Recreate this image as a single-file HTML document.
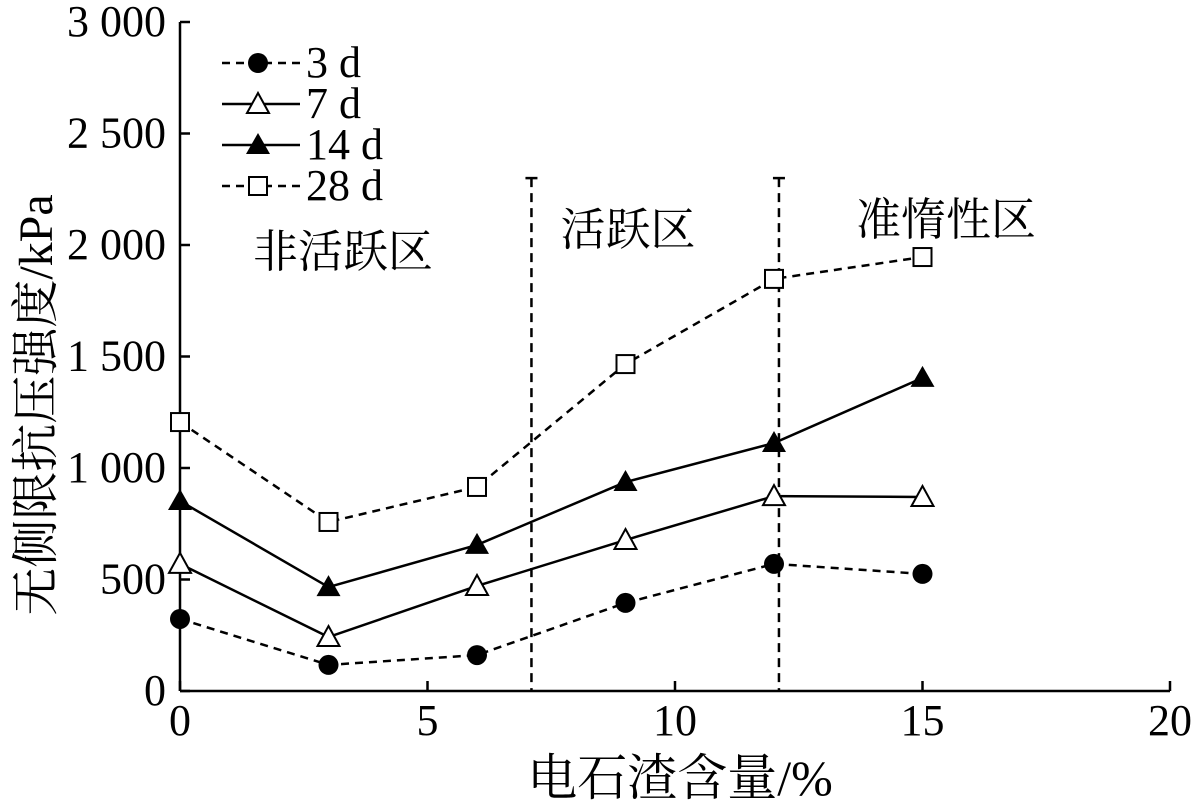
<!DOCTYPE html>
<html><head><meta charset="utf-8"><style>
html,body{margin:0;padding:0;background:#fff;}
svg{display:block;font-family:"Liberation Serif","Noto Serif CJK SC",serif;}
</style></head><body>
<svg id="chart" width="1198" height="805" viewBox="0 0 1198 805" xmlns="http://www.w3.org/2000/svg"></svg>
<script>
const xValues = [0, 3, 6, 9, 12, 15];
const s3d = [323, 117, 161, 395, 570, 525];
const s7d = [570, 242, 471, 677, 874, 870];
const s14d = [852, 466, 655, 937, 1112, 1404];
const s28d = [1206, 758, 915, 1466, 1848, 1946];
const xTicks = [0, 5, 10, 15, 20];
const yTicks = [0, 500, 1000, 1500, 2000, 2500, 3000];
const yTickLabels = ["0", "500", "1 000", "1 500", "2 000", "2 500", "3 000"];
const zoneBounds = [7.1, 12.1];
const zoneTop = 2300;

const NS = "http://www.w3.org/2000/svg";
const svg = document.getElementById('chart');
const X0 = 180, X1 = 1170, Y0 = 691, Y1 = 22;
const xs = v => X0 + (v / 20) * (X1 - X0);
const ys = v => Y0 - (v / 3000) * (Y0 - Y1);
function mk(tag, attrs, parent) {
  const e = document.createElementNS(NS, tag);
  for (const k in attrs) e.setAttribute(k, attrs[k]);
  (parent || svg).appendChild(e);
  return e;
}
let ax = mk('line', {x1: X0, y1: Y0, x2: X1, y2: Y0, stroke: '#000', 'stroke-width': 2.5});


ax = mk('line', {x1: X0, y1: Y0, x2: X0, y2: Y1, stroke: '#000', 'stroke-width': 2.5});


xTicks.forEach(t => {
  mk('line', {x1: xs(t), y1: Y0, x2: xs(t), y2: Y0 - 10, stroke: '#000', 'stroke-width': 2.5});
  const tx = mk('text', {x: xs(t), y: 735, 'font-size': 44, 'text-anchor': 'middle'});
  tx.textContent = t;
  
  
});
yTicks.forEach((t, i) => {
  mk('line', {x1: X0, y1: ys(t), x2: X0 + 10, y2: ys(t), stroke: '#000', 'stroke-width': 2.5});
  const tx = mk('text', {x: 166, y: ys(t) + 14, 'font-size': 44, 'text-anchor': 'end'});
  tx.textContent = yTickLabels[i];
  
  
});
let t = mk('text', {x: 680, y: 795, 'font-size': 50, 'text-anchor': 'middle'});
t.textContent = '电石渣含量/%';


t = mk('text', {x: 0, y: 0, 'font-size': 48, 'text-anchor': 'middle', transform: 'translate(52,405) rotate(-90)'});
t.textContent = '无侧限抗压强度/kPa';


zoneBounds.forEach(b => {
  const l = mk('line', {x1: xs(b), y1: ys(zoneTop), x2: xs(b), y2: Y0, stroke: '#000', 'stroke-width': 2.5, 'stroke-dasharray': '9,6'});
  
  
  mk('line', {x1: xs(b) - 6, y1: ys(zoneTop), x2: xs(b) + 6, y2: ys(zoneTop), stroke: '#000', 'stroke-width': 2.5});
});
[['非活跃区', 343, 267, 'zone-label-inactive'], ['活跃区', 628, 245, 'zone-label-active'], ['准惰性区', 946, 235, 'zone-label-quasi-inert']].forEach(z => {
  const e = mk('text', {x: z[1], y: z[2], 'font-size': 45, 'text-anchor': 'middle'});
  e.textContent = z[0];
  
  
});
function marker(type, x, y, g) {
  if (type === 'circle') return mk('circle', {cx: x, cy: y, r: 10, fill: '#000'}, g);
  if (type === 'tri-open') return mk('polygon', {points: `${x},${y-11} ${x+11},${y+9} ${x-11},${y+9}`, fill: '#fff', stroke: '#000', 'stroke-width': 2}, g);
  if (type === 'tri') return mk('polygon', {points: `${x},${y-12} ${x+12},${y+9} ${x-12},${y+9}`, fill: '#000'}, g);
  return mk('rect', {x: x - 9, y: y - 9, width: 18, height: 18, fill: '#fff', stroke: '#000', 'stroke-width': 2}, g);
}
const series = [
  [s3d, 'circle', '8,6', '3 d', 'series-3d'],
  [s7d, 'tri-open', null, '7 d', 'series-7d'],
  [s14d, 'tri', null, '14 d', 'series-14d'],
  [s28d, 'square', '8,6', '28 d', 'series-28d']
];
series.forEach((s, si) => {
  const g = mk('g', {});
  
  
  const pts = s[0].map((v, i) => xs(xValues[i]) + ',' + ys(v)).join(' ');
  const a = {points: pts, fill: 'none', stroke: '#000', 'stroke-width': 2.5};
  if (s[2]) a['stroke-dasharray'] = s[2];
  mk('polyline', a, g);
  s[0].forEach((v, i) => {
    const m = marker(s[1], xs(xValues[i]), ys(v), g);
    
    
  });
  const lg = mk('g', {});
  
  
  const ly = 63 + si * 41;
  const la = {x1: 222, y1: ly, x2: 300, y2: ly, stroke: '#000', 'stroke-width': 2.5};
  if (s[2]) la['stroke-dasharray'] = s[2];
  mk('line', la, lg);
  marker(s[1], 258, ly, lg);
  const lt = mk('text', {x: 306, y: ly + 14, 'font-size': 44}, lg);
  lt.textContent = s[3];
});
</script>
</body></html>
